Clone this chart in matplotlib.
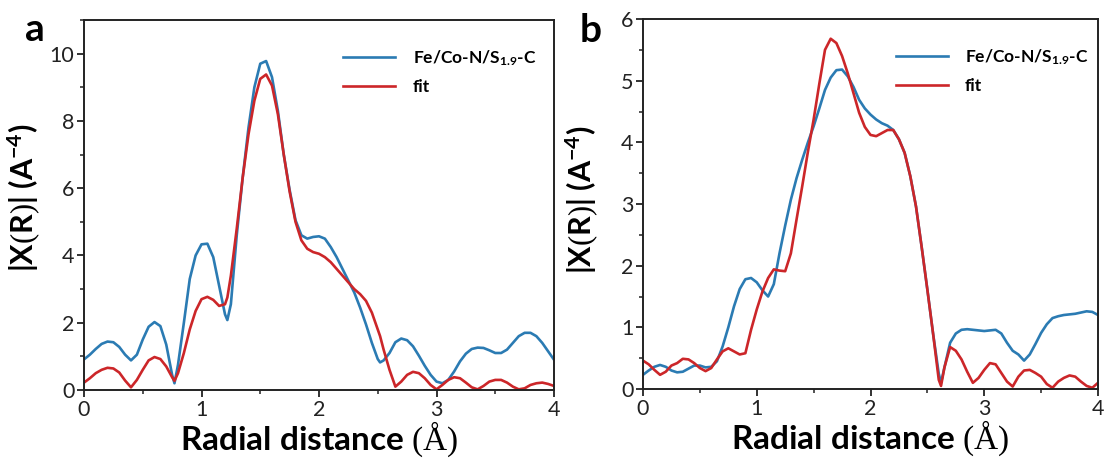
import matplotlib
matplotlib.use("Agg")
import matplotlib.pyplot as plt
from matplotlib import font_manager
from matplotlib.ticker import MultipleLocator

# ---------------- data ----------------
r_a = [0.00, 0.05, 0.10, 0.15, 0.20, 0.25, 0.30, 0.35, 0.40, 0.45,
       0.50, 0.55, 0.60, 0.65, 0.70, 0.75, 0.77, 0.80, 0.85, 0.90, 0.95,
       1.00, 1.05, 1.10, 1.15, 1.20, 1.22, 1.25, 1.30, 1.35, 1.40, 1.45,
       1.50, 1.55, 1.60, 1.65, 1.70, 1.75, 1.80, 1.85, 1.90, 1.95,
       2.00, 2.05, 2.10, 2.15, 2.20, 2.25, 2.30, 2.35, 2.40, 2.45,
       2.50, 2.52, 2.55, 2.60, 2.65, 2.70, 2.75, 2.80, 2.85, 2.90, 2.95,
       3.00, 3.05, 3.10, 3.15, 3.20, 3.25, 3.30, 3.35, 3.40, 3.45,
       3.50, 3.55, 3.60, 3.65, 3.70, 3.75, 3.80, 3.85, 3.90, 3.95,
       4.00]
data_a = [0.91, 1.05, 1.22, 1.37, 1.44, 1.42, 1.28, 1.05, 0.88, 1.05,
          1.50, 1.88, 2.02, 1.90, 1.35, 0.45, 0.20, 0.75, 2.00, 3.30, 4.00,
          4.33, 4.35, 3.95, 3.10, 2.25, 2.08, 2.55, 4.60, 6.30, 7.80, 9.00,
          9.70, 9.78, 9.30, 8.30, 7.00, 5.95, 5.05, 4.60, 4.50, 4.55,
          4.57, 4.50, 4.25, 3.95, 3.60, 3.25, 2.90, 2.45, 1.95, 1.40,
          0.92, 0.82, 0.88, 1.10, 1.42, 1.53, 1.48, 1.30, 1.02, 0.72, 0.45,
          0.25, 0.20, 0.30, 0.55, 0.85, 1.08, 1.22, 1.26, 1.25, 1.18,
          1.10, 1.10, 1.20, 1.40, 1.60, 1.70, 1.70, 1.60, 1.40, 1.15,
          0.90]
fit_a = [0.22, 0.35, 0.50, 0.60, 0.66, 0.64, 0.52, 0.28, 0.08, 0.30,
         0.60, 0.88, 0.98, 0.92, 0.70, 0.38, 0.27, 0.50, 1.10, 1.80, 2.35,
         2.70, 2.77, 2.68, 2.50, 2.55, 2.75, 3.40, 4.80, 6.30, 7.60, 8.60,
         9.25, 9.38, 9.05, 8.20, 7.00, 5.90, 5.00, 4.45, 4.20, 4.10,
         4.05, 3.95, 3.80, 3.60, 3.40, 3.20, 3.00, 2.85, 2.65, 2.30,
         1.80, 1.60, 1.20, 0.60, 0.10, 0.25, 0.45, 0.54, 0.50, 0.35, 0.15,
         0.02, 0.15, 0.30, 0.38, 0.35, 0.22, 0.08, 0.02, 0.12, 0.25,
         0.30, 0.30, 0.22, 0.10, 0.02, 0.05, 0.15, 0.20, 0.22, 0.18,
         0.12]

r_b = [0.00, 0.05, 0.10, 0.15, 0.20, 0.25, 0.30, 0.35, 0.40, 0.45,
       0.50, 0.55, 0.60, 0.65, 0.70, 0.75, 0.80, 0.85, 0.90, 0.95,
       1.00, 1.05, 1.10, 1.15, 1.20, 1.25, 1.30, 1.35, 1.40, 1.45,
       1.50, 1.55, 1.60, 1.65, 1.70, 1.75, 1.80, 1.85, 1.90, 1.95,
       2.00, 2.05, 2.10, 2.15, 2.20, 2.25, 2.30, 2.35, 2.40, 2.45,
       2.50, 2.55, 2.60, 2.62, 2.65, 2.70, 2.75, 2.80, 2.85, 2.90, 2.95,
       3.00, 3.05, 3.10, 3.15, 3.20, 3.25, 3.30, 3.35, 3.40, 3.45,
       3.50, 3.55, 3.60, 3.65, 3.70, 3.75, 3.80, 3.85, 3.90, 3.95,
       4.00]
data_b = [0.23, 0.30, 0.36, 0.39, 0.36, 0.30, 0.27, 0.28, 0.33, 0.38,
          0.38, 0.35, 0.36, 0.45, 0.69, 1.00, 1.34, 1.62, 1.78, 1.80,
          1.73, 1.60, 1.50, 1.70, 2.20, 2.65, 3.07, 3.42, 3.72, 4.00,
          4.26, 4.55, 4.85, 5.05, 5.17, 5.18, 5.07, 4.90, 4.69, 4.55,
          4.45, 4.37, 4.31, 4.27, 4.20, 4.05, 3.83, 3.45, 2.96, 2.30,
          1.61, 0.90, 0.25, 0.10, 0.35, 0.75, 0.90, 0.96, 0.97, 0.96, 0.95,
          0.94, 0.95, 0.96, 0.90, 0.75, 0.62, 0.56, 0.46, 0.56, 0.73,
          0.91, 1.05, 1.15, 1.18, 1.20, 1.21, 1.22, 1.24, 1.26, 1.25,
          1.20]
fit_b = [0.46, 0.40, 0.31, 0.23, 0.28, 0.38, 0.42, 0.49, 0.48, 0.42,
         0.34, 0.29, 0.34, 0.48, 0.61, 0.66, 0.61, 0.56, 0.58, 0.96,
         1.29, 1.58, 1.80, 1.94, 1.92, 1.91, 2.20, 2.75, 3.29, 3.85,
         4.37, 4.95, 5.50, 5.68, 5.61, 5.40, 5.12, 4.80, 4.48, 4.25,
         4.12, 4.10, 4.15, 4.20, 4.20, 4.05, 3.83, 3.45, 2.96, 2.30,
         1.61, 0.90, 0.15, 0.05, 0.35, 0.68, 0.62, 0.48, 0.28, 0.10, 0.18,
         0.31, 0.42, 0.40, 0.26, 0.12, 0.04, 0.20, 0.30, 0.31, 0.26,
         0.20, 0.08, 0.02, 0.12, 0.18, 0.22, 0.20, 0.12, 0.05, 0.02,
         0.10]

legend_labels = ["Fe/Co-N/S$_{\\mathbf{1.9}}$-C", "fit"]
panel_letters = ["a", "b"]
xlabel_text = "Radial distance $\\mathrm{(\u00c5)}$"
ylabel_text = "|X$\\mathrm{(}$R$\\mathrm{)}$| (A$^{\\mathbf{-4}}$)"

# ---------------- style ----------------
names = {f.name for f in font_manager.fontManager.ttflist}
sans = "Lato" if "Lato" in names else "DejaVu Sans"
plt.rcParams["font.family"] = [sans, "DejaVu Sans"]
plt.rcParams["mathtext.fontset"] = "custom"
plt.rcParams["mathtext.rm"] = "Liberation Serif"
plt.rcParams["mathtext.bf"] = sans + ":bold"
plt.rcParams["mathtext.it"] = sans + ":italic"

BLUE = "#2b7bb3"
RED = "#cc2629"

fig = plt.figure(figsize=(11.05, 4.59), dpi=100)
ax_a = fig.add_axes([84 / 1105, 1 - 390 / 459, 470 / 1105, 370 / 459])
ax_b = fig.add_axes([643 / 1105, 1 - 389 / 459, 455 / 1105, 370 / 459])

panels = [
    (ax_a, r_a, data_a, fit_a, 11, 2, 1, (-0.088, 0.52), (337 - 84) / 470),
    (ax_b, r_b, data_b, fit_b, 6, 1, 0.5, (-0.092, 0.51), (889 - 643) / 455),
]

for ax, r, d, f, ymax, ymaj, ymin, ylab_pos, leg_x in panels:
    ax.plot(r, d, color=BLUE, lw=1.9, label=legend_labels[0],
            solid_joinstyle="round")
    ax.plot(r, f, color=RED, lw=1.9, label=legend_labels[1],
            solid_joinstyle="round")
    ax.set_xlim(0, 4)
    ax.set_ylim(0, ymax)
    ax.xaxis.set_major_locator(MultipleLocator(1))
    ax.xaxis.set_minor_locator(MultipleLocator(0.5))
    ax.yaxis.set_major_locator(MultipleLocator(ymaj))
    ax.yaxis.set_minor_locator(MultipleLocator(ymin))
    for s in ax.spines.values():
        s.set_linewidth(1.4)
        s.set_color("#222222")
    ax.tick_params(which="major", direction="out", length=5, width=1.3,
                   labelsize=15.5, pad=2, colors="#222222")
    ax.tick_params(which="minor", direction="out", length=3, width=1.1,
                   colors="#222222")
    ax.set_xlabel(xlabel_text, fontsize=24, fontweight="bold", labelpad=0)
    ax.set_ylabel(ylabel_text, fontsize=22, fontweight="bold")
    ax.yaxis.set_label_coords(*ylab_pos)
    ax.legend(loc="upper left", bbox_to_anchor=(leg_x - 0.02, 0.965),
              frameon=False, handlelength=3.0, handletextpad=1.0,
              labelspacing=0.6, prop={"size": 12.5, "weight": "bold"})

fig.text(25 / 1105, 1 - 41 / 459, panel_letters[0], fontsize=28,
         fontweight="bold", va="baseline", ha="left")
fig.text(580 / 1105, 1 - 42 / 459, panel_letters[1], fontsize=28,
         fontweight="bold", va="baseline", ha="left")

fig.savefig("out.png", dpi=100)
